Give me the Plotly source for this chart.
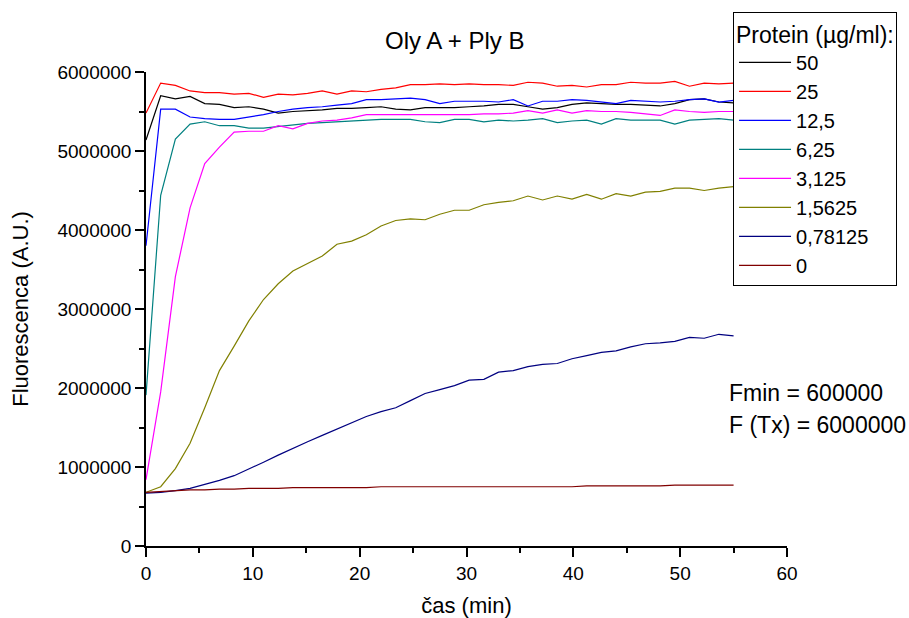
import plotly.graph_objects as go

time_min = [0, 1.375, 2.75, 4.125, 5.5, 6.875, 8.25, 9.625, 11, 12.375, 13.75, 15.125, 16.5, 17.875,
            19.25, 20.625, 22, 23.375, 24.75, 26.125, 27.5, 28.875, 30.25, 31.625, 33, 34.375, 35.75,
            37.125, 38.5, 39.875, 41.25, 42.625, 44, 45.375, 46.75, 48.125, 49.5, 50.875, 52.25, 53.625, 55]

s_50 = [5.14e6, 5.70e6, 5.66e6, 5.69e6, 5.60e6, 5.59e6, 5.55e6, 5.56e6, 5.53e6, 5.48e6,
        5.50e6, 5.51e6, 5.52e6, 5.54e6, 5.54e6, 5.55e6, 5.56e6, 5.53e6, 5.52e6, 5.55e6,
        5.55e6, 5.55e6, 5.56e6, 5.57e6, 5.59e6, 5.59e6, 5.56e6, 5.53e6, 5.55e6, 5.59e6,
        5.61e6, 5.60e6, 5.59e6, 5.59e6, 5.58e6, 5.57e6, 5.60e6, 5.65e6, 5.66e6, 5.62e6, 5.61e6]
s_25 = [5.48e6, 5.86e6, 5.83e6, 5.76e6, 5.74e6, 5.74e6, 5.72e6, 5.73e6, 5.68e6, 5.72e6,
        5.71e6, 5.73e6, 5.76e6, 5.72e6, 5.76e6, 5.75e6, 5.78e6, 5.80e6, 5.84e6, 5.84e6,
        5.85e6, 5.84e6, 5.85e6, 5.84e6, 5.84e6, 5.83e6, 5.87e6, 5.86e6, 5.82e6, 5.83e6,
        5.81e6, 5.84e6, 5.84e6, 5.87e6, 5.86e6, 5.86e6, 5.88e6, 5.82e6, 5.86e6, 5.85e6, 5.86e6]
s_12_5 = [3.80e6, 5.53e6, 5.53e6, 5.43e6, 5.41e6, 5.40e6, 5.40e6, 5.43e6, 5.46e6, 5.50e6,
          5.53e6, 5.55e6, 5.56e6, 5.58e6, 5.60e6, 5.65e6, 5.65e6, 5.66e6, 5.67e6, 5.65e6,
          5.60e6, 5.63e6, 5.63e6, 5.63e6, 5.62e6, 5.65e6, 5.57e6, 5.63e6, 5.63e6, 5.65e6,
          5.64e6, 5.62e6, 5.60e6, 5.64e6, 5.63e6, 5.62e6, 5.63e6, 5.65e6, 5.66e6, 5.62e6, 5.64e6]
s_6_25 = [1.91e6, 4.44e6, 5.15e6, 5.34e6, 5.37e6, 5.32e6, 5.32e6, 5.29e6, 5.29e6, 5.31e6,
          5.33e6, 5.35e6, 5.36e6, 5.37e6, 5.38e6, 5.39e6, 5.40e6, 5.40e6, 5.40e6, 5.37e6,
          5.36e6, 5.40e6, 5.40e6, 5.37e6, 5.39e6, 5.38e6, 5.39e6, 5.41e6, 5.36e6, 5.38e6,
          5.39e6, 5.34e6, 5.41e6, 5.39e6, 5.39e6, 5.39e6, 5.34e6, 5.39e6, 5.40e6, 5.41e6, 5.39e6]
s_3_125 = [0.84e6, 1.95e6, 3.41e6, 4.28e6, 4.84e6, 5.05e6, 5.24e6, 5.25e6, 5.25e6, 5.32e6,
           5.28e6, 5.35e6, 5.38e6, 5.39e6, 5.42e6, 5.46e6, 5.46e6, 5.46e6, 5.46e6, 5.46e6,
           5.46e6, 5.46e6, 5.46e6, 5.47e6, 5.47e6, 5.48e6, 5.51e6, 5.48e6, 5.52e6, 5.48e6,
           5.51e6, 5.50e6, 5.50e6, 5.49e6, 5.47e6, 5.45e6, 5.52e6, 5.50e6, 5.49e6, 5.50e6, 5.50e6]
s_1_5625 = [0.68e6, 0.75e6, 0.98e6, 1.30e6, 1.75e6, 2.22e6, 2.53e6, 2.85e6, 3.12e6, 3.32e6,
            3.48e6, 3.58e6, 3.67e6, 3.82e6, 3.86e6, 3.94e6, 4.05e6, 4.12e6, 4.14e6, 4.13e6,
            4.20e6, 4.25e6, 4.25e6, 4.32e6, 4.35e6, 4.37e6, 4.43e6, 4.38e6, 4.43e6, 4.39e6,
            4.45e6, 4.39e6, 4.46e6, 4.43e6, 4.48e6, 4.49e6, 4.53e6, 4.53e6, 4.50e6, 4.53e6, 4.55e6]
s_0_78125 = [0.67e6, 0.68e6, 0.70e6, 0.73e6, 0.78e6, 0.83e6, 0.89e6, 0.97e6, 1.06e6, 1.15e6,
             1.24e6, 1.32e6, 1.40e6, 1.48e6, 1.55e6, 1.64e6, 1.70e6, 1.75e6, 1.84e6, 1.93e6,
             1.98e6, 2.03e6, 2.10e6, 2.11e6, 2.20e6, 2.22e6, 2.27e6, 2.30e6, 2.31e6, 2.37e6,
             2.41e6, 2.45e6, 2.47e6, 2.52e6, 2.56e6, 2.57e6, 2.59e6, 2.64e6, 2.63e6, 2.68e6, 2.66e6]
s_0 = [0.68e6, 0.69e6, 0.70e6, 0.71e6, 0.71e6, 0.72e6, 0.72e6, 0.73e6, 0.73e6, 0.73e6,
       0.74e6, 0.74e6, 0.74e6, 0.74e6, 0.74e6, 0.74e6, 0.75e6, 0.75e6, 0.75e6, 0.75e6,
       0.75e6, 0.75e6, 0.75e6, 0.75e6, 0.75e6, 0.75e6, 0.75e6, 0.75e6, 0.75e6, 0.75e6,
       0.76e6, 0.76e6, 0.76e6, 0.76e6, 0.76e6, 0.76e6, 0.77e6, 0.77e6, 0.77e6, 0.77e6, 0.77e6]

series_names = ["50", "25", "12,5", "6,25", "3,125", "1,5625", "0,78125", "0"]
series_values = [s_50, s_25, s_12_5, s_6_25, s_3_125, s_1_5625, s_0_78125, s_0]
series_colors = ["#000000", "#FF0000", "#0000FF", "#008080", "#FF00FF", "#808000", "#000080", "#800000"]

y_tickvals = [0, 1000000, 2000000, 3000000, 4000000, 5000000, 6000000]
y_ticktext = ["0", "1000000", "2000000", "3000000", "4000000", "5000000", "6000000"]
x_tickvals = [0, 10, 20, 30, 40, 50, 60]

FONT = "Liberation Sans, Arial, sans-serif"

fig = go.Figure()
for name, vals, col in zip(series_names, series_values, series_colors):
    fig.add_trace(go.Scatter(x=time_min, y=vals, mode="lines", name=name,
                             line=dict(color=col, width=1.2)))

fig.update_layout(
    width=909, height=618,
    margin=dict(l=146, r=122, t=72, b=72, autoexpand=False),
    paper_bgcolor="white", plot_bgcolor="white",
    font=dict(family=FONT, color="black", size=19),
    showlegend=True,
    legend=dict(
        x=0.9158, y=1.1266, xanchor="left", yanchor="top",
        bordercolor="black", borderwidth=1, bgcolor="white",
        font=dict(size=20, family=FONT),
        title=dict(text="Protein (µg/ml):", font=dict(size=23, family=FONT)),
        itemwidth=52, tracegroupgap=0,
        entrywidth=110, entrywidthmode="pixels",
    ),
)

fig.update_xaxes(
    range=[0, 60], tickvals=x_tickvals, showgrid=False, zeroline=False, automargin=False,
    showline=True, linecolor="black", linewidth=1.5,
    ticks="outside", ticklen=9, tickwidth=1.5, tickcolor="black",
    tickfont=dict(size=19),
    minor=dict(ticks="outside", ticklen=5, tickwidth=1.5, tickcolor="black", dtick=5, showgrid=False),
    title=dict(text="čas (min)", font=dict(size=22), standoff=16),
)
fig.update_yaxes(
    range=[0, 6000000], tickvals=y_tickvals, ticktext=y_ticktext, showgrid=False, zeroline=False,
    automargin=False,
    showline=True, linecolor="black", linewidth=1.5,
    ticks="outside", ticklen=9, tickwidth=1.5, tickcolor="black",
    tickfont=dict(size=19),
    minor=dict(ticks="outside", ticklen=5, tickwidth=1.5, tickcolor="black", dtick=500000, showgrid=False),
    title=dict(text="Fluorescenca (A.U.)", font=dict(size=22), standoff=23),
)

fig.add_annotation(text="Oly A + Ply B", xref="paper", yref="paper", x=0.482, y=1.0675,
                   xanchor="center", yanchor="middle", showarrow=False, font=dict(size=24))
fig.add_annotation(text="Fmin = 600000", xref="paper", yref="paper", x=0.906, y=0.3228,
                   xanchor="left", yanchor="middle", showarrow=False, font=dict(size=23))
fig.add_annotation(text="F (Tx) = 6000000", xref="paper", yref="paper", x=0.906, y=0.2553,
                   xanchor="left", yanchor="middle", showarrow=False, font=dict(size=23))

fig.write_html("out.html")
